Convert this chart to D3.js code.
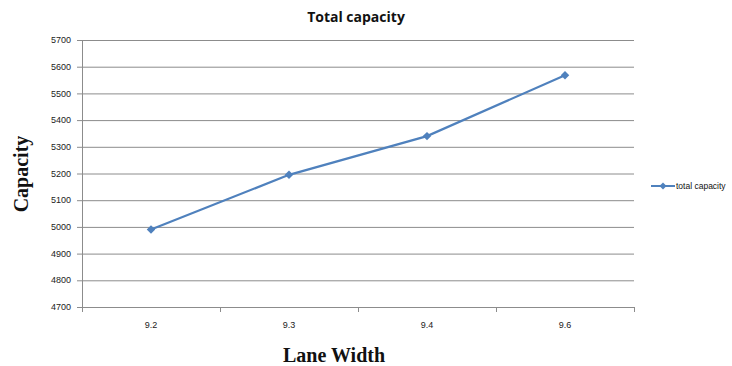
<!DOCTYPE html>
<html><head><meta charset="utf-8">
<script src="https://cdn.jsdelivr.net/npm/d3@7"></script>
<style>body{margin:0;background:#fff}</style>
</head><body>
<svg id="c" width="732" height="366"></svg>
<script>
const categories = ["9.2", "9.3", "9.4", "9.6"];
const capacity = [4990, 5195, 5340, 5568];
const yTicks = [4700, 4800, 4900, 5000, 5100, 5200, 5300, 5400, 5500, 5600, 5700];
const seriesName = "total capacity";

const svg = d3.select("#c");
const m = {l: 82, r: 634, t: 40, b: 307};
const x = d3.scaleBand().domain(categories).range([m.l, m.r]);
const y = d3.scaleLinear().domain([4700, 5700]).range([m.b, m.t]);
const grid = "#8c8c8c";

svg.append("g").selectAll("line").data(yTicks).join("line")
  .attr("x1", m.l - 5).attr("x2", m.r).attr("y1", d => y(d) + 0.5).attr("y2", d => y(d) + 0.5)
  .attr("stroke", grid).attr("stroke-width", 1);
svg.append("line").attr("x1", m.l + 0.5).attr("x2", m.l + 0.5).attr("y1", m.t).attr("y2", m.b + 5)
  .attr("stroke", grid);
const bounds = categories.map(c => x(c)).concat([m.r]);
svg.append("g").selectAll("line").data(bounds).join("line")
  .attr("x1", d => d + 0.5).attr("x2", d => d + 0.5).attr("y1", m.b).attr("y2", m.b + 5)
  .attr("stroke", grid);

svg.append("g").selectAll("text").data(yTicks).join("text")
  .attr("x", 71).attr("y", d => y(d)).attr("dy", "0.35em").attr("text-anchor", "end")
  .attr("font-family", "Liberation Sans, Arial, sans-serif").attr("font-size", 9).attr("fill", "#222")
  .text(d => d);
svg.append("g").selectAll("text").data(categories).join("text")
  .attr("x", d => x(d) + x.bandwidth() / 2).attr("y", 328).attr("text-anchor", "middle")
  .attr("font-family", "Liberation Sans, Arial, sans-serif").attr("font-size", 9).attr("fill", "#222")
  .text(d => d);

const pts = categories.map((c, i) => [x(c) + x.bandwidth() / 2, y(capacity[i])]);
svg.append("path").attr("d", d3.line()(pts)).attr("fill", "none")
  .attr("stroke", "#4F81BD").attr("stroke-width", 2.2);
const diamond = d3.symbol().type(d3.symbolSquare).size(36);
svg.append("g").selectAll("path").data(pts).join("path")
  .attr("transform", d => `translate(${d[0]},${d[1]}) rotate(45)`).attr("d", diamond).attr("fill", "#4F81BD");

svg.append("text").attr("x", 356).attr("y", 22).attr("text-anchor", "middle")
  .attr("font-family", "Open Sans, Liberation Sans, sans-serif").attr("font-weight", "bold")
  .attr("font-size", 14).attr("fill", "#111").text("Total capacity");
svg.append("text").attr("transform", "translate(28,174) rotate(-90)").attr("text-anchor", "middle")
  .attr("font-family", "Liberation Serif, Times New Roman, serif").attr("font-weight", "bold")
  .attr("font-size", 20).attr("fill", "#111").text("Capacity");
svg.append("text").attr("x", 334).attr("y", 362).attr("text-anchor", "middle")
  .attr("font-family", "Liberation Serif, Times New Roman, serif").attr("font-weight", "bold")
  .attr("font-size", 20).attr("fill", "#111").text("Lane Width");

const ly = 186;
svg.append("line").attr("x1", 651).attr("x2", 675).attr("y1", ly).attr("y2", ly)
  .attr("stroke", "#4F81BD").attr("stroke-width", 2);
svg.append("path").attr("transform", `translate(663,${ly}) rotate(45)`).attr("d", d3.symbol().type(d3.symbolSquare).size(25)).attr("fill", "#4F81BD");
svg.append("text").attr("x", 676).attr("y", ly).attr("dy", "0.35em")
  .attr("font-family", "Liberation Sans, Arial, sans-serif").attr("font-size", 8.5).attr("fill", "#111")
  .text(seriesName);
</script>
</body></html>
